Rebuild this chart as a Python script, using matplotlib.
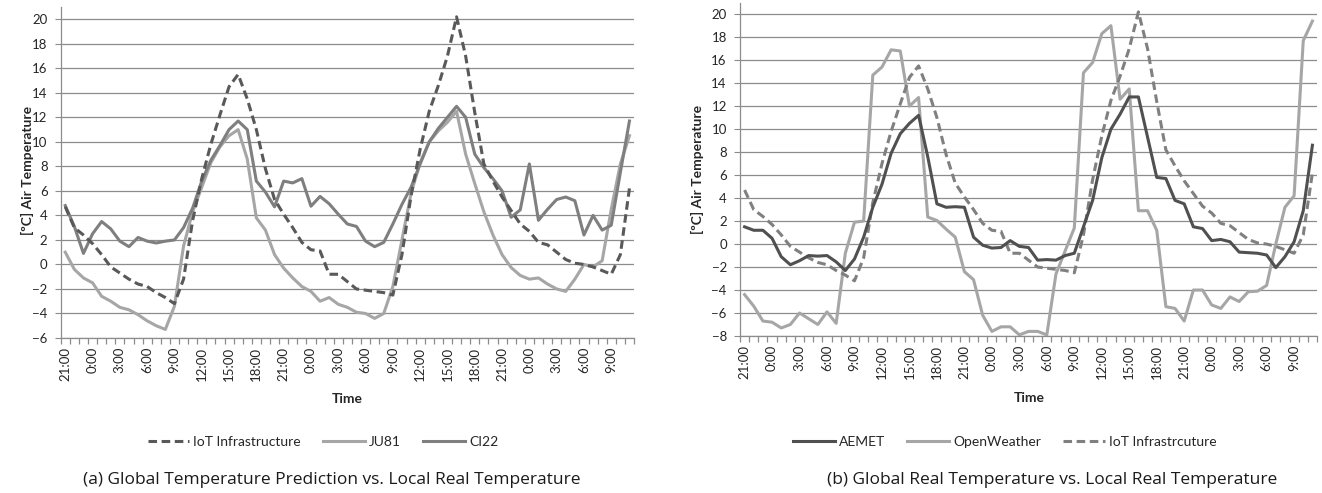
import matplotlib.pyplot as plt
from matplotlib.lines import Line2D

# hourly readings, 21:00 day 1 -> 11:00 day 4
tick_labels = ["21:00", "0:00", "3:00", "6:00", "9:00", "12:00", "15:00", "18:00",
               "21:00", "0:00", "3:00", "6:00", "9:00", "12:00", "15:00", "18:00",
               "21:00", "0:00", "3:00", "6:00", "9:00"]

iot = [4.7, 3.0, 2.4, 1.7, 0.8, -0.2, -0.7, -1.2, -1.6, -1.8, -2.3, -2.7, -3.2,
       -1.2, 3.6, 7.0, 9.8, 12.2, 14.5, 15.5, 13.5, 11.0, 7.8,
       5.3, 4.1, 3.0, 1.8, 1.2, 1.1, -0.8, -0.8, -1.4, -2.0,
       -2.1, -2.2, -2.3, -2.5, 0.8, 5.6, 9.4, 12.5, 14.6, 17.0,
       20.2, 17.0, 12.4, 8.2, 6.8, 5.5, 4.4, 3.3, 2.7, 1.8,
       1.6, 1.0, 0.4, 0.1, 0.0, -0.2, -0.5, -0.8, 0.8, 6.2]

ju81 = [1.0, -0.4, -1.1, -1.5, -2.6, -3.0, -3.5, -3.7, -4.1, -4.6, -5.0, -5.3, -3.4,
        1.5, 4.3, 6.3, 8.3, 9.6, 10.5, 11.0, 8.6, 3.8, 2.8,
        0.8, -0.3, -1.1, -1.8, -2.2, -3.0, -2.7, -3.25, -3.5, -3.9,
        -4.0, -4.4, -4.0, -1.8, 2.0, 5.8, 8.3, 10.0, 10.9, 11.6,
        12.5, 9.0, 6.6, 4.3, 2.4, 0.8, -0.25, -0.9, -1.2, -1.1,
        -1.6, -2.0, -2.2, -1.2, 0.0, -0.2, 0.3, 4.5, 8.2, 10.5]

ci22 = [4.8, 3.1, 0.9, 2.5, 3.5, 2.9, 1.9, 1.45, 2.2, 1.9, 1.75, 1.9, 2.0,
        3.0, 4.6, 6.8, 8.5, 9.7, 11.0, 11.7, 11.0, 6.8, 5.9,
        4.7, 6.8, 6.65, 7.0, 4.75, 5.55, 4.95, 4.1, 3.3, 3.1,
        1.9, 1.45, 1.8, 3.3, 4.9, 6.3, 8.2, 10.0, 11.1, 12.0,
        12.9, 12.0, 9.0, 7.9, 7.0, 6.0, 3.85, 4.45, 8.2, 3.6,
        4.5, 5.3, 5.5, 5.2, 2.4, 4.0, 2.8, 3.2, 7.5, 11.7]

aemet = [1.5, 1.2, 1.2, 0.5, -1.1, -1.8, -1.45, -1.0, -1.05, -1.0, -1.55, -2.3, -1.3,
         0.6, 3.2, 5.2, 7.9, 9.6, 10.5, 11.2, 7.6, 3.5, 3.2,
         3.25, 3.2, 0.6, -0.1, -0.35, -0.3, 0.3, -0.2, -0.3, -1.4,
         -1.35, -1.4, -1.0, -0.8, 1.5, 3.8, 7.5, 10.0, 11.3, 12.8,
         12.8, 9.3, 5.8, 5.7, 3.8, 3.5, 1.5, 1.35, 0.3, 0.4,
         0.2, -0.7, -0.75, -0.8, -0.95, -2.05, -1.1, 0.2, 2.9, 8.6]

openweather = [-4.4, -5.4, -6.7, -6.8, -7.3, -7.0, -6.0, -6.5, -7.0, -5.9, -6.9, -0.8, 1.9,
               2.0, 14.7, 15.4, 16.9, 16.8, 12.0, 12.75, 2.35, 2.05, 1.3,
               0.6, -2.4, -3.1, -6.2, -7.6, -7.2, -7.2, -7.9, -7.6, -7.6,
               -7.9, -2.6, -0.6, 1.4, 14.9, 15.8, 18.3, 19.0, 12.6, 13.5,
               2.9, 2.9, 1.2, -5.45, -5.6, -6.7, -4.0, -4.0, -5.3, -5.6,
               -4.6, -5.0, -4.15, -4.1, -3.6, 0.0, 3.2, 4.2, 17.7, 19.4]

plt.rcParams['font.family'] = ['Lato', 'DejaVu Sans']

W, H = 1322, 493
fig = plt.figure(figsize=(W / 100, H / 100), dpi=100)

# axes boxes in pixels: left, right, top, bottom
ax1 = fig.add_axes([60.7 / W, 1 - 338 / H, (634 - 60.7) / W, (338 - 7) / H])
ax2 = fig.add_axes([740 / W, 1 - 336 / H, (1317 - 740) / W, (336 - 2.7) / H])

grid_col = '#8c8c8c'
text_col = '#262626'
n = len(iot)
x = list(range(n))


def style(ax, ymin):
    ax.set_xlim(-0.5, n - 0.5)
    ax.set_ylim(ymin, 21)
    ax.set_yticks(range(ymin, 21, 2))
    ax.set_xticks(range(0, n, 3))
    ax.set_xticklabels(tick_labels, rotation=90)
    ax.set_xticks([i - 0.5 for i in range(n + 1)], minor=True)
    ax.grid(axis='y', color=grid_col, lw=0.9)
    ax.set_axisbelow(True)
    for s in ['top', 'right']:
        ax.spines[s].set_visible(False)
    for s in ['left', 'bottom']:
        ax.spines[s].set_color(grid_col)
        ax.spines[s].set_linewidth(0.9)
    ax.tick_params(axis='y', length=4.5, color=grid_col, pad=5, labelsize=9.5, labelcolor=text_col)
    ax.tick_params(axis='x', which='major', length=0, pad=6.5, labelsize=9.5, labelcolor=text_col)
    ax.tick_params(axis='x', which='minor', length=4, color=grid_col, width=0.9)


style(ax1, -6)
style(ax2, -8)

lw = 2.2
ax1.plot(x, ju81, color='#a6a6a6', lw=lw, solid_joinstyle='round')
ax1.plot(x, ci22, color='#7f7f7f', lw=lw, solid_joinstyle='round')
ax1.plot(x, iot, color='#595959', lw=lw, dashes=(2.8, 1.5))

ax2.plot(x, openweather, color='#a6a6a6', lw=lw, solid_joinstyle='round')
ax2.plot(x, iot, color='#808080', lw=lw, dashes=(2.8, 1.5))
ax2.plot(x, aemet, color='#505050', lw=lw, solid_joinstyle='round')

# axis titles
fig.text(27 / W, 1 - 170 / H, '[ºC] Air Temperature', rotation=90, ha='center', va='center',
         fontsize=10, fontweight='bold', color=text_col)
fig.text(697 / W, 1 - 169 / H, '[ºC] Air Temperature', rotation=90, ha='center', va='center',
         fontsize=10, fontweight='bold', color=text_col)
fig.text(347 / W, 1 - 399 / H, 'Time', ha='center', va='center', fontsize=10, fontweight='bold', color=text_col)
fig.text(1029 / W, 1 - 398 / H, 'Time', ha='center', va='center', fontsize=10, fontweight='bold', color=text_col)

# legends
h1 = [Line2D([], [], color='#595959', lw=lw, dashes=(2.8, 1.5)),
      Line2D([], [], color='#a6a6a6', lw=lw),
      Line2D([], [], color='#7f7f7f', lw=lw)]
fig.legend(h1, ['IoT Infrastructure', 'JU81', 'CI22'], loc='center', bbox_to_anchor=(323 / W, 1 - 442 / H),
           ncol=3, frameon=False, fontsize=10, handlelength=3.0, columnspacing=1.6, handletextpad=0.3,
           labelcolor=text_col)

h2 = [Line2D([], [], color='#505050', lw=lw),
      Line2D([], [], color='#a6a6a6', lw=lw),
      Line2D([], [], color='#808080', lw=lw, dashes=(2.8, 1.5))]
fig.legend(h2, ['AEMET', 'OpenWeather', 'IoT Infrastrcuture'], loc='center', bbox_to_anchor=(1005 / W, 1 - 442 / H),
           ncol=3, frameon=False, fontsize=10, handlelength=3.0, columnspacing=1.6, handletextpad=0.3,
           labelcolor=text_col)

# captions
fig.text(332 / W, 1 - 480 / H, '(a) Global Temperature Prediction vs. Local Real Temperature',
         ha='center', va='center', fontsize=12.5, family='Open Sans', color='#1a1a1a')
fig.text(1052 / W, 1 - 480 / H, '(b) Global Real Temperature vs. Local Real Temperature',
         ha='center', va='center', fontsize=12.5, family='Open Sans', color='#1a1a1a')

fig.savefig('out.png', dpi=100)
